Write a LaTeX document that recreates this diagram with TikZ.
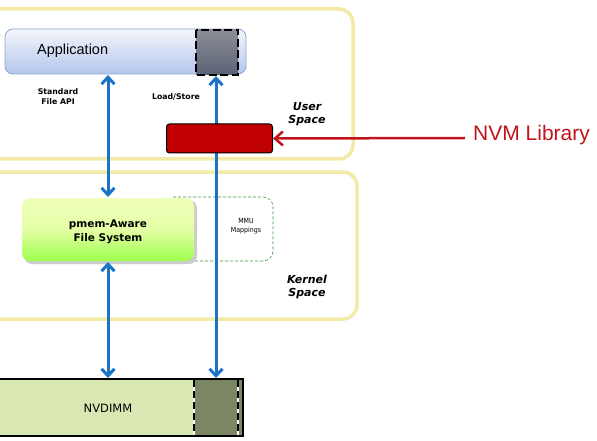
\documentclass[tikz,border=0pt]{standalone}
\usepackage{fontspec}
\setmainfont{Liberation Sans}
\newfontfamily\dvs{DejaVu Sans}
\newfontfamily\dvsc{DejaVu Sans Condensed}
\usetikzlibrary{arrows.meta,shadows}
\definecolor{arrblue}{HTML}{1B74C5}
\definecolor{spaceyellow}{HTML}{F3EAA8}
\definecolor{nvmred}{HTML}{C00000}
\definecolor{libred}{HTML}{C0141C}
\definecolor{appborder}{HTML}{8FA4D0}
\definecolor{appbottom}{HTML}{B4C6EE}
\definecolor{sqtop}{HTML}{8C8E96}
\definecolor{sqbottom}{HTML}{5A6276}
\definecolor{nvgreen}{HTML}{D9E8B2}
\definecolor{nvdark}{HTML}{7A8762}
\definecolor{mmugreen}{HTML}{3C9A3C}
\tikzset{
  spacebox/.style={draw=spaceyellow, line width=3.5pt, rounded corners=14pt, fill=white},
  barrow/.style={draw=arrblue, line width=3pt, {Straight Barb[length=7pt,width=13pt,line width=3pt]}-{Straight Barb[length=7pt,width=13pt,line width=3pt]}},
  lbl/.style={font=\dvs\bfseries\fontsize{7.8}{10}\selectfont, align=center, inner sep=0pt},
  spacelbl/.style={font=\dvs\bfseries\itshape\fontsize{11}{13}\selectfont, align=center, inner sep=0pt},
}
\begin{document}
\begin{tikzpicture}[x=1pt,y=-1pt]
\useasboundingbox (0,0) rectangle (597,441);
% spaces
\draw[spacebox] (-30,9) rectangle (353,159);
\draw[spacebox] (-30,172) rectangle (357,319);
% application
\shade[top color=white!90!appborder, bottom color=appbottom, rounded corners=8pt, draw=appborder, line width=0.8pt] (5,29) rectangle (246,74);
\node[font=\fontsize{14.5}{16}\selectfont, anchor=west, inner sep=0pt] (app) at (37,51) {Application};
\coordinate (appL) at (108,75);
\shade[top color=sqtop, bottom color=sqbottom, draw=black, line width=2.6pt, dash pattern=on 8pt off 3.5pt] (196,30) rectangle (238,75);
\coordinate (appR) at (216,76);
% labels
\node[lbl] (sfa) at (58,97) {Standard\\File API};
\node[lbl] (ls) at (176,97) {Load/Store};
\node[spacelbl] (us) at (307,114) {User\\Space};
\node[spacelbl] (ks) at (307,287) {Kernel\\Space};
% MMU
\draw[mmugreen, densely dashed, line width=0.6pt, rounded corners=10pt] (173,197) -- (273,197) -- (273,261) -- (173,261);
\node[font=\dvsc\fontsize{7}{9}\selectfont, align=center, inner sep=0pt] (mmu) at (246,226) {MMU\\Mappings};
% file system
\fill[black!20, rounded corners=8pt] (24,200) rectangle (197,264);
\shade[top color=white!92!green!80!yellow, bottom color=green!55!yellow!70, middle color=green!30!yellow!35, rounded corners=8pt] (22,198) rectangle (194,261);
\node[font=\dvs\bfseries\fontsize{10.5}{14}\selectfont, align=center, inner sep=0pt] (fs) at (108,232) {pmem-Aware\\File System};
\coordinate (fsT) at (108,197);
\coordinate (fsB) at (108,262);
% NVDIMM
\fill[nvgreen] (-5,379) rectangle (194,436);
\fill[nvdark] (194,379) rectangle (243,436);
\draw[black, line width=2.5pt] (-5,379) rectangle (243,436);
\draw[white, line width=2pt] (194,380) -- (194,435);
\draw[black, line width=2pt, dash pattern=on 7pt off 4pt] (194,380) -- (194,435);
\draw[white, line width=2pt] (238,380) -- (238,435);
\draw[black, line width=2pt, dash pattern=on 7pt off 4pt] (238,380) -- (238,435);
\node[font=\dvs\fontsize{11.5}{13}\selectfont, inner sep=0pt] (nv) at (108,408) {NVDIMM};
\coordinate (nvL) at (108,378);
\coordinate (nvR) at (216,378);
% arrows
\draw[barrow] (appL) -- (fsT);
\draw[barrow] (fsB) -- (nvL);
\draw[barrow] (appR) -- (nvR);
% red box
\node[draw=black, fill=nvmred, line width=1pt, rounded corners=3pt, minimum width=106pt, minimum height=29pt, inner sep=0pt] (lib) at (219.5,138.5) {};
\node[font=\fontsize{21}{24}\selectfont, text=libred, anchor=west, inner sep=0pt] (libtxt) at (473,135) {NVM Library};
\draw[libred, line width=2.5pt, -{Straight Barb[length=8pt,width=14pt,line width=2.5pt]}] (465,138) -- (lib.east);
\end{tikzpicture}
\end{document}
